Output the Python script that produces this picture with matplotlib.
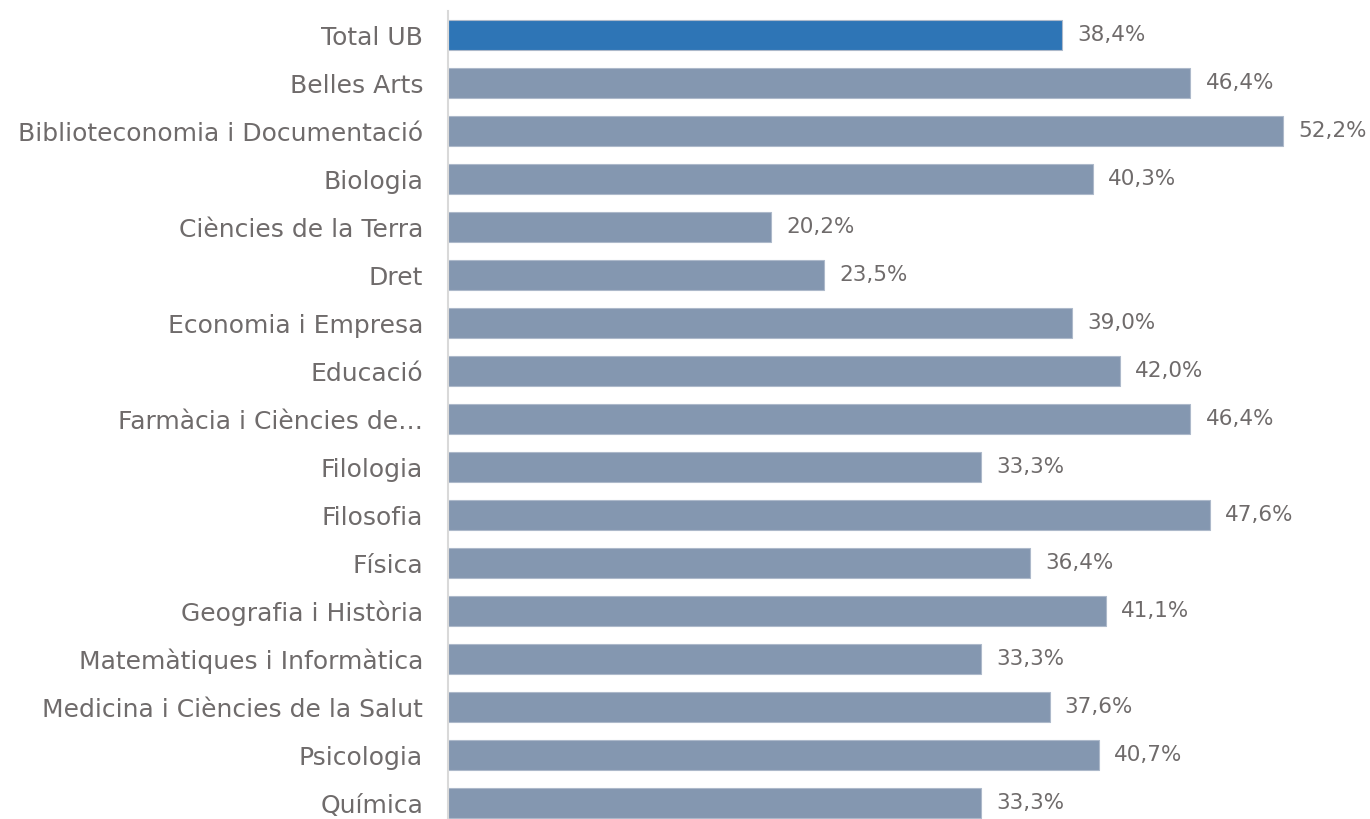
import matplotlib.pyplot as plt

categories = ["Total UB", "Belles Arts", "Biblioteconomia i Documentació", "Biologia",
              "Ciències de la Terra", "Dret", "Economia i Empresa", "Educació",
              "Farmàcia i Ciències de…", "Filologia", "Filosofia", "Física",
              "Geografia i Història", "Matemàtiques i Informàtica",
              "Medicina i Ciències de la Salut", "Psicologia", "Química"]
values = [38.4, 46.4, 52.2, 40.3, 20.2, 23.5, 39.0, 42.0, 46.4, 33.3, 47.6, 36.4,
          41.1, 33.3, 37.6, 40.7, 33.3]

text_col = "#6f6b6b"
plt.rcParams['font.family'] = ['DejaVu Sans']

fig = plt.figure(figsize=(13.7, 8.19), dpi=100)
ax = fig.add_axes([448 / 1370, 0, 1 - 448 / 1370, (819 - 11) / 819])

colors = ["#2e75b6"] + ["#8497b0"] * (len(values) - 1)
pos = list(range(len(values)))
ax.barh(pos, values, height=0.625, color=colors, edgecolor="#adb9ca", linewidth=0.8)

for y, v in zip(pos, values):
    ax.text(v + 0.95, y, f"{v:.1f}%".replace(".", ","), va="center", ha="left",
            fontsize=15.5, color=text_col)

ax.set_xlim(0, (1370 - 448) / 16.0)
ax.set_ylim(16.33, -0.5)
ax.set_yticks(pos)
ax.set_yticklabels(categories, fontsize=18, color=text_col)
ax.tick_params(axis="y", length=0, pad=18)
ax.set_xticks([])
for s in ["top", "right", "bottom"]:
    ax.spines[s].set_visible(False)
ax.spines["left"].set_color("#d9d9d9")
ax.spines["left"].set_linewidth(1.5)

fig.savefig("out.png", dpi=100)
